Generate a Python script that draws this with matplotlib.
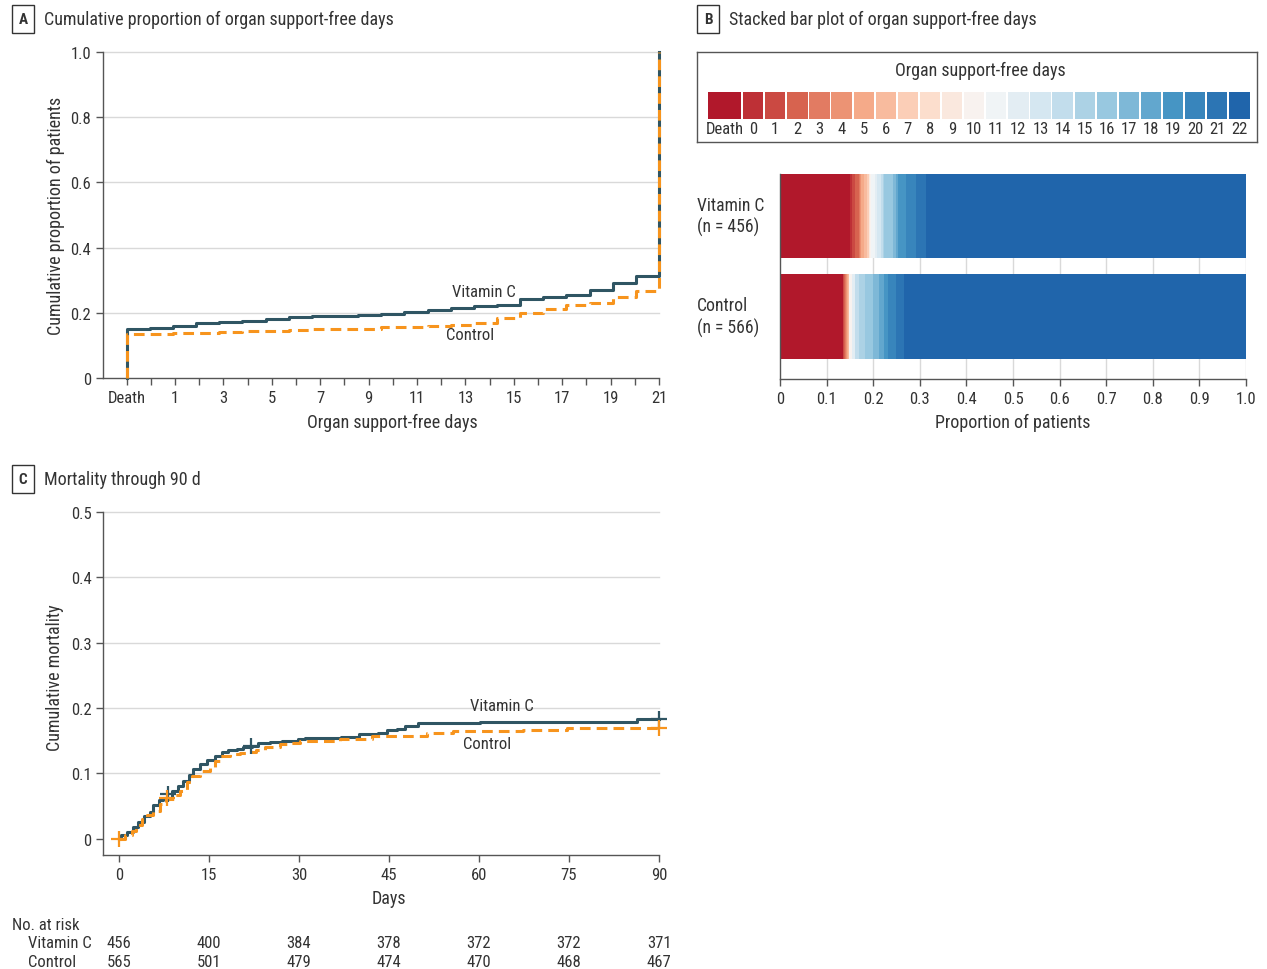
import numpy as np
import matplotlib
matplotlib.use('Agg')
import matplotlib.pyplot as plt
from matplotlib import font_manager
from matplotlib.patches import Rectangle
import matplotlib.transforms as mtransforms

# ---------------- data ----------------
# Panel A / B: cumulative proportion for Death, 0, 1, ..., 21 organ support-free days (22 -> 1.0)
osfd_categories = ['Death'] + [str(d) for d in range(23)]
vitc_cum = [0.150, 0.154, 0.161, 0.170, 0.172, 0.174, 0.181, 0.186, 0.190, 0.190, 0.193, 0.196,
            0.203, 0.209, 0.216, 0.221, 0.224, 0.242, 0.248, 0.254, 0.271, 0.292, 0.313]
ctrl_cum = [0.135, 0.136, 0.138, 0.139, 0.141, 0.144, 0.145, 0.147, 0.149, 0.149, 0.149, 0.155,
            0.155, 0.160, 0.162, 0.170, 0.183, 0.199, 0.212, 0.224, 0.231, 0.249, 0.267]
groups_b = ['Vitamin C\n(n = 456)', 'Control\n(n = 566)']
a_tick_labels = ['Death', '', '1', '', '3', '', '5', '', '7', '', '9', '', '11', '', '13', '', '15',
                 '', '17', '', '19', '', '21']

# Panel C: Kaplan-Meier cumulative mortality
vitc_t = [0, 0.4, 1.3, 2.4, 3.2, 4.1, 5.2, 5.7, 6.6, 7.4, 8.8, 9.9, 10.7, 11.6, 12.4, 13.5, 14.6,
          16.0, 17.1, 18.2, 19.6, 20.7, 22.1, 23.2, 25.2, 27.1, 29.9, 31.0, 37.0, 40.0, 43.2, 44.6,
          46.3, 47.7, 49.9, 60.2, 86.3, 90]
vitc_m = [0, 0.005, 0.010, 0.018, 0.026, 0.035, 0.041, 0.051, 0.059, 0.063, 0.073, 0.081, 0.089,
          0.097, 0.107, 0.114, 0.121, 0.127, 0.132, 0.136, 0.138, 0.140, 0.142, 0.146, 0.148, 0.150,
          0.152, 0.154, 0.156, 0.160, 0.162, 0.166, 0.168, 0.172, 0.177, 0.179, 0.183, 0.183]
ctrl_t = [0, 1.0, 2.1, 2.9, 3.8, 4.6, 5.7, 6.8, 7.9, 9.1, 10.2, 11.3, 12.1, 13.5, 15.2, 16.0, 16.8,
          18.5, 20.2, 21.8, 22.9, 24.3, 26.8, 28.5, 30.2, 36.8, 42.1, 51.3, 55.7, 67.4, 74.6, 90]
ctrl_m = [0, 0.005, 0.012, 0.021, 0.030, 0.036, 0.043, 0.053, 0.061, 0.067, 0.073, 0.086, 0.096,
          0.104, 0.109, 0.119, 0.127, 0.130, 0.131, 0.133, 0.136, 0.141, 0.145, 0.147, 0.149, 0.152,
          0.157, 0.162, 0.165, 0.167, 0.170, 0.170]
vitc_cens_t = [8.2, 22.0, 90]
vitc_cens_m = [0.068, 0.142, 0.183]
ctrl_cens_t = [0, 8.0, 90]
ctrl_cens_m = [0.0, 0.062, 0.170]

risk_days = [0, 15, 30, 45, 60, 75, 90]
risk_vitc = [456, 400, 384, 378, 372, 372, 371]
risk_ctrl = [565, 501, 479, 474, 470, 468, 467]

# ---------------- style ----------------
avail = {f.name for f in font_manager.fontManager.ttflist}
fam = [f for f in ['Liberation Sans Narrow', 'Roboto Condensed', 'Open Sans Condensed',
                   'Roboto', 'DejaVu Sans'] if f in avail]
plt.rcParams['font.family'] = fam
TXT = '#333333'
SPINE = '#555555'
GRID = '#d9d9d9'
VC = '#2f5563'
CT = '#f7941d'
FS = 12
LFS = 13
plt.rcParams['text.color'] = TXT
plt.rcParams['axes.labelcolor'] = TXT
plt.rcParams['xtick.color'] = SPINE
plt.rcParams['ytick.color'] = SPINE
plt.rcParams['xtick.labelcolor'] = TXT
plt.rcParams['ytick.labelcolor'] = TXT

W, H = 1267, 970
fig = plt.figure(figsize=(W / 100, H / 100), dpi=100)


def ax_px(left, top, right, bottom):
    return fig.add_axes([left / W, 1 - bottom / H, (right - left) / W, (bottom - top) / H])


def panel_label(x, y, letter, title):
    fig.text(x / W, 1 - y / H, letter, fontsize=11, fontweight='bold', ha='center', va='center',
             bbox=dict(boxstyle='square,pad=0.45', fc='white', ec='#333333', lw=1))
    fig.text((x + 21) / W, 1 - y / H, title, fontsize=13, ha='left', va='center')


def style_axes(ax):
    for s in ['top', 'right']:
        ax.spines[s].set_visible(False)
    for s in ['left', 'bottom']:
        ax.spines[s].set_color(SPINE)
        ax.spines[s].set_linewidth(1)
    ax.tick_params(length=5, width=1, labelsize=FS, direction='out')


# ---------------- Panel A ----------------
axA = ax_px(103, 53, 659, 379)
style_axes(axA)
xa_edges = np.linspace(-1, 21, len(vitc_cum) + 1)
for cum, col, ls in [(ctrl_cum, CT, (0, (3.5, 2))), (vitc_cum, VC, '-')]:
    xs = np.concatenate([[-1], xa_edges])
    ys = np.concatenate([[0], cum, [1.0]])
    axA.plot(xs, ys, drawstyle='steps-post', color=col, lw=2.2, ls=ls, clip_on=False,
             zorder=3 if col == VC else 4)
axA.set_xlim(-1.98, 21)
axA.set_ylim(0, 1.0)
axA.set_yticks([0, 0.2, 0.4, 0.6, 0.8, 1.0])
axA.set_yticklabels(['0', '0.2', '0.4', '0.6', '0.8', '1.0'])
axA.set_xticks(np.arange(-1, 22))
axA.set_xticklabels(a_tick_labels)
for yv in [0.2, 0.4, 0.6, 0.8, 1.0]:
    axA.axhline(yv, color=GRID, lw=1, zorder=0, clip_on=False)
axA.set_ylabel('Cumulative proportion of patients', fontsize=LFS)
axA.yaxis.set_label_coords(-0.068, 0.5)
axA.set_xlabel('Organ support-free days', fontsize=LFS)
axA.xaxis.set_label_coords((392.5 - 103) / 556, -0.107)
axA.text(13.76, 0.266, 'Vitamin C', fontsize=FS, ha='center', va='center')
axA.text(13.19, 0.133, 'Control', fontsize=FS, ha='center', va='center')
panel_label(23, 20, 'A', 'Cumulative proportion of organ support-free days')

# ---------------- Panel B ----------------
colors = plt.cm.RdBu(np.linspace(0.1, 0.9, len(osfd_categories)))
axB = ax_px(780, 175, 1246, 380)
style_axes(axB)
for yi, cum in [(1, vitc_cum), (0, ctrl_cum)]:
    full = np.concatenate([cum, [1.0]])
    lefts = np.concatenate([[0], full[:-1]])
    widths = np.diff(np.concatenate([[0], full]))
    axB.barh(np.full(len(widths), yi), widths, left=lefts, height=0.836, color=colors, lw=0, zorder=2)
axB.set_xlim(0, 1)
axB.set_ylim(-0.622, 1.418)
axB.set_xticks(np.arange(0, 1.01, 0.1))
axB.set_xticklabels(['0'] + ['%.1f' % v for v in np.arange(0.1, 1.01, 0.1)])
axB.set_yticks([])
for xv in np.arange(0.1, 1.01, 0.1):
    axB.axvline(xv, color=GRID, lw=1, zorder=0)
axB.set_xlabel('Proportion of patients', fontsize=LFS)
axB.xaxis.set_label_coords(0.5, -0.166)
trB = mtransforms.blended_transform_factory(axB.transAxes, axB.transData)
for yi, lab in zip([1, 0], groups_b):
    axB.text(-83 / 466, yi, lab, transform=trB, fontsize=12.7, ha='left', va='center', linespacing=1.2)

# legend box
axL = ax_px(697, 53, 1257, 143)
axL.set_xlim(0, 560)
axL.set_ylim(90, 0)
axL.set_xticks([])
axL.set_yticks([])
for s in axL.spines.values():
    s.set_color(SPINE)
    s.set_linewidth(1)
axL.text(283, 18, 'Organ support-free days', fontsize=LFS, ha='center', va='center')
for i, (cat, col) in enumerate(zip(osfd_categories, colors)):
    if i == 0:
        x0, w = 11.4, 32.6
    else:
        x0, w = 46 + (i - 1) * 22.1, 20.3
    axL.add_patch(Rectangle((x0, 40.3), w, 26.7, color=col, lw=0))
    axL.text(x0 + w / 2, 76.5, cat, fontsize=FS, ha='center', va='center')
panel_label(708, 20, 'B', 'Stacked bar plot of organ support-free days')

# ---------------- Panel C ----------------
axC = ax_px(103.3, 513, 659, 856)
style_axes(axC)
axC.plot(ctrl_t, ctrl_m, drawstyle='steps-post', color=CT, lw=2.2, ls=(0, (3.5, 2)), zorder=4, clip_on=False)
axC.plot(vitc_t, vitc_m, drawstyle='steps-post', color=VC, lw=2.2, zorder=3, clip_on=False)
axC.plot(vitc_cens_t, vitc_cens_m, ls='none', marker='+', ms=11, mew=1.6, color=VC, zorder=5, clip_on=False)
axC.plot(ctrl_cens_t, ctrl_cens_m, ls='none', marker='+', ms=11, mew=1.6, color=CT, zorder=5, clip_on=False)
axC.set_xlim(-2.6, 90)
axC.set_ylim(-0.025, 0.5)
axC.set_xticks(risk_days)
axC.set_yticks([0, 0.1, 0.2, 0.3, 0.4, 0.5])
axC.set_yticklabels(['0', '0.1', '0.2', '0.3', '0.4', '0.5'])
for yv in [0.1, 0.2, 0.3, 0.4, 0.5]:
    axC.axhline(yv, color=GRID, lw=1, zorder=0, clip_on=False)
axC.set_ylabel('Cumulative mortality', fontsize=LFS)
axC.yaxis.set_label_coords(-0.071, 0.52)
axC.set_xlabel('Days', fontsize=LFS)
axC.xaxis.set_label_coords((389 - 103.3) / 555.7, -0.099)
axC.text(63.8, 0.2035, 'Vitamin C', fontsize=FS, ha='center', va='center')
axC.text(61.3, 0.145, 'Control', fontsize=FS, ha='center', va='center')
panel_label(23, 480, 'C', 'Mortality through 90 d')

# number at risk
trC = mtransforms.blended_transform_factory(axC.transData, fig.transFigure)
fig.text(12 / W, 1 - 925.5 / H, 'No. at risk', fontsize=FS, ha='left', va='center')
for lab, vals, y in [('Vitamin C', risk_vitc, 943.5), ('Control', risk_ctrl, 962.5)]:
    fig.text(28 / W, 1 - y / H, lab, fontsize=FS, ha='left', va='center')
    for d, v in zip(risk_days, vals):
        axC.text(d, 1 - y / H, str(v), transform=trC, fontsize=FS, ha='center', va='center')

fig.savefig('out.png', dpi=100)
